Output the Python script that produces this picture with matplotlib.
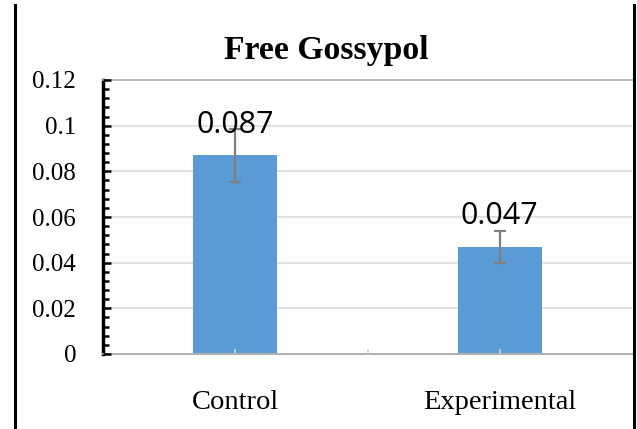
import matplotlib
matplotlib.use("Agg")
import matplotlib.pyplot as plt
from matplotlib.lines import Line2D
from matplotlib.ticker import MultipleLocator, FixedLocator, NullFormatter

# Data
categories = ["Control", "Experimental"]
means = [0.087, 0.047]
errors = [0.0115, 0.007]
value_labels = ["0.087", "0.047"]
y_ticks = [0, 0.02, 0.04, 0.06, 0.08, 0.1, 0.12]
y_tick_labels = ["0", "0.02", "0.04", "0.06", "0.08", "0.1", "0.12"]

W, H, DPI = 637, 429, 100
fig = plt.figure(figsize=(W / DPI, H / DPI), dpi=DPI)
fig.patch.set_facecolor("white")

ax = fig.add_axes([103 / W, 1 - 354 / H, (632 - 103) / W, (354 - 80) / H])

# Horizontal gridlines behind the bars
for yv in y_ticks[1:]:
    ax.axhline(yv, color="#D9D9D9", linewidth=1.1, zorder=0)

x = list(range(len(categories)))
ax.bar(x, means, width=0.317, color="#5B9BD5", zorder=1)
ax.errorbar(x, means, yerr=errors, fmt="none", ecolor="#7F7F7F",
            elinewidth=1.6, capsize=4.3, capthick=1.6, zorder=3)

for xi, v, lab in zip(x, means, value_labels):
    ax.text(xi, v + 0.0098, lab, ha="center", va="baseline",
            fontsize=22, family="Open Sans", color="black", zorder=4)

ax.set_xlim(-0.5, 1.5)
ax.set_ylim(0, 0.12)

# Y axis
ax.set_yticks(y_ticks)
ax.set_yticklabels(y_tick_labels, family="Liberation Serif", fontsize=18)
ax.yaxis.set_minor_locator(MultipleLocator(0.004))
ax.tick_params(axis="y", which="major", direction="in", length=6,
               width=1.8, color="black", pad=19.4)
ax.tick_params(axis="y", which="minor", direction="in", length=4.5,
               width=1.8, color="black")

# X axis
ax.set_xticks(x)
ax.set_xticklabels(categories, family="Liberation Serif", fontsize=20.5)
ax.xaxis.set_minor_locator(FixedLocator([0.5]))
ax.xaxis.set_minor_formatter(NullFormatter())
ax.tick_params(axis="x", which="both", direction="in", length=3.5,
               width=1.2, color="#D0D0D0", pad=26)

ax.set_axisbelow(False)

ax.spines["right"].set_visible(False)
ax.spines["left"].set_color("black")
ax.spines["left"].set_linewidth(2.5)
ax.spines["bottom"].set_color("#B0B0B0")
ax.spines["bottom"].set_linewidth(1.4)
ax.spines["top"].set_color("#B8B8B8")
ax.spines["top"].set_linewidth(1.4)

# Title
fig.text(326 / W, 1 - 59 / H, "Free Gossypol", ha="center", va="baseline",
         fontsize=24.3, fontweight="bold", family="Liberation Serif")

# Frame lines at the sides of the chart
for xp in (14.5, 634):
    fig.add_artist(Line2D([xp / W, xp / W], [0, 1 - 5 / H],
                          transform=fig.transFigure, color="black",
                          linewidth=2.2))

fig.savefig("out.png", dpi=DPI)
